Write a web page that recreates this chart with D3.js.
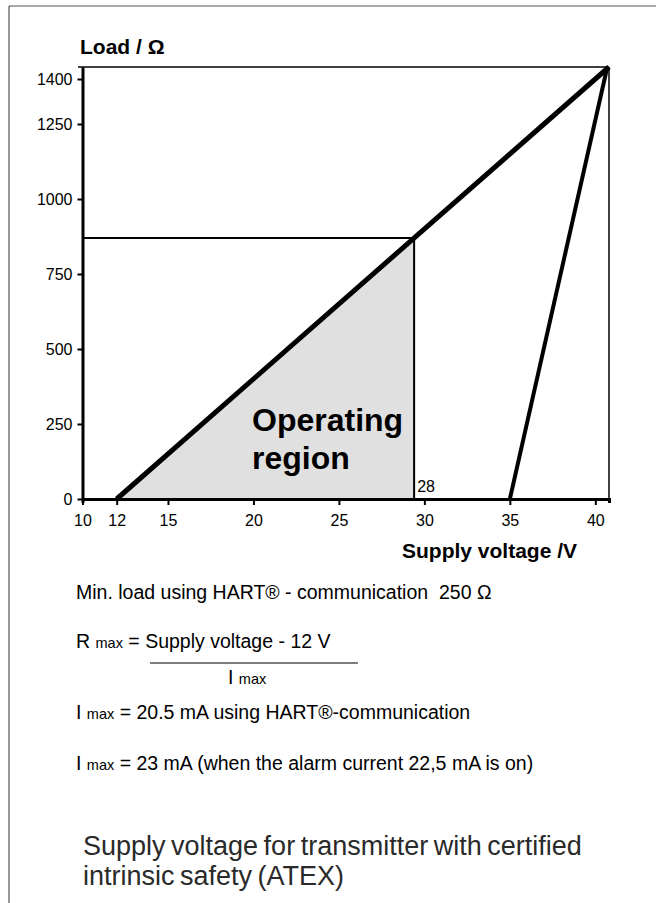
<!DOCTYPE html>
<html>
<head>
<meta charset="utf-8">
<script src="https://cdn.jsdelivr.net/npm/d3@7"></script>
<style>
  body { margin: 0; background: #fff; }
  svg { display: block; font-family: "Liberation Sans", Arial, sans-serif; }
  text { white-space: pre; }
</style>
</head>
<body>
<svg id="loadChart"></svg>
<script>
// values
var xTicks = [10, 12, 15, 20, 25, 30, 35, 40];
var yTicks = [0, 250, 500, 750, 1000, 1250, 1400];
var xDomain = [10, 40.8];
var yDomain = [0, 1440];
var loadLine = [[12, 0], [40.8, 1440]];      // R max = (U - 12 V) / 20 mA
var steepLine = [[35, 0], [40.7, 1440]];
var operatingPoint = [29.4, 870];
var regionPoly = [[12, 0], [29.4, 870], [29.4, 0]];

var svg = d3.select("#loadChart")
    .attr("width", 656)
    .attr("height", 903);

// page frame
svg.append("line").attr("x1", 9).attr("y1", 6).attr("x2", 656).attr("y2", 6)
    .attr("stroke", "#555").attr("stroke-width", 1.2);
svg.append("line").attr("x1", 9).attr("y1", 6).attr("x2", 9).attr("y2", 903)
    .attr("stroke", "#555").attr("stroke-width", 1.2);

var xScale = d3.scaleLinear().domain(xDomain).range([82.5, 609]);
var yScale = d3.scaleLinear().domain(yDomain).range([499, 67]);

var line = d3.line().x(d => xScale(d[0])).y(d => yScale(d[1]));

// operating region
svg.append("path")
    .attr("d", line(regionPoly) + "Z")
    .attr("fill", "#e0e0e0");

// top and right frame of the plot
svg.append("line")
    .attr("x1", 78).attr("x2", xScale(xDomain[1]))
    .attr("y1", yScale(yDomain[1])).attr("y2", yScale(yDomain[1]))
    .attr("stroke", "#000").attr("stroke-width", 1.5);
svg.append("line")
    .attr("x1", xScale(xDomain[1])).attr("x2", xScale(xDomain[1]))
    .attr("y1", yScale(yDomain[1])).attr("y2", yScale(0))
    .attr("stroke", "#000").attr("stroke-width", 1.5);

// operating point guide lines
svg.append("line")
    .attr("x1", xScale(xDomain[0])).attr("x2", xScale(operatingPoint[0]))
    .attr("y1", yScale(operatingPoint[1])).attr("y2", yScale(operatingPoint[1]))
    .attr("stroke", "#000").attr("stroke-width", 2);
svg.append("line")
    .attr("x1", xScale(operatingPoint[0])).attr("x2", xScale(operatingPoint[0]))
    .attr("y1", yScale(operatingPoint[1])).attr("y2", yScale(0))
    .attr("stroke", "#000").attr("stroke-width", 2);

svg.append("path")
    .attr("d", line(loadLine))
    .attr("fill", "none").attr("stroke", "#000").attr("stroke-width", 5);
svg.append("path")
    .attr("d", line(steepLine))
    .attr("fill", "none").attr("stroke", "#000").attr("stroke-width", 4);

// axes
var yAxis = svg.append("g")
    .attr("transform", "translate(" + xScale(xDomain[0]) + ",0)")
    .call(d3.axisLeft(yScale).tickValues(yTicks).tickFormat(d3.format("d"))
        .tickSize(5).tickSizeOuter(0).tickPadding(5));
var xAxis = svg.append("g")
    .attr("transform", "translate(0," + yScale(0) + ")")
    .call(d3.axisBottom(xScale).tickValues(xTicks).tickFormat(d3.format("d"))
        .tickSize(6).tickSizeOuter(4).tickPadding(10));

[yAxis, xAxis].forEach(function(g) {
    g.select(".domain").attr("stroke", "#000").attr("stroke-width", 3);
    g.selectAll(".tick line").attr("stroke", "#000").attr("stroke-width", 2);
    g.selectAll(".tick text")
        .attr("font-family", "Liberation Sans, Arial, sans-serif")
        .attr("font-size", 16).attr("fill", "#000");
});

// axis titles and labels
svg.append("text").attr("x", 80).attr("y", 54)
    .attr("font-size", 21).attr("font-weight", "bold").text("Load / Ω");
svg.append("text").attr("x", 402).attr("y", 558)
    .attr("font-size", 21).attr("font-weight", "bold").text("Supply voltage /V");
svg.append("text").attr("x", 252).attr("y", 431)
    .attr("font-size", 32).attr("font-weight", "bold").text("Operating");
svg.append("text").attr("x", 252).attr("y", 469)
    .attr("font-size", 32).attr("font-weight", "bold").text("region");
svg.append("text").attr("x", xScale(operatingPoint[0]) + 3).attr("y", 492)
    .attr("font-size", 16).text("28");

// notes below the chart
function note(x, y, parts) {
    var t = svg.append("text").attr("x", x).attr("y", y).attr("font-size", 19.5);
    parts.forEach(function(p) {
        var s = t.append("tspan").text(p[0]);
        if (p[1]) s.attr("font-size", 14.5);
    });
    return t;
}
note(76, 599, [["Min. load using HART® - communication  250 Ω"]]);
note(76, 648, [["R "], ["max", 1], [" = Supply voltage - 12 V"]]);
svg.append("line").attr("x1", 150).attr("x2", 358).attr("y1", 663).attr("y2", 663)
    .attr("stroke", "#000").attr("stroke-width", 1.2);
note(228, 684, [["I "], ["max", 1]]);
note(76, 719, [["I "], ["max", 1], [" = 20.5 mA using HART®-communication"]]);
note(76, 770, [["I "], ["max", 1], [" = 23 mA (when the alarm current 22,5 mA is on)"]]);

svg.append("text").attr("x", 83).attr("y", 855)
    .attr("font-size", 27).attr("fill", "#2a2a2a").attr("word-spacing", -2)
    .text("Supply voltage for transmitter with certified");
svg.append("text").attr("x", 83).attr("y", 885)
    .attr("font-size", 27).attr("fill", "#2a2a2a").attr("word-spacing", -2)
    .text("intrinsic safety (ATEX)");
</script>
</body>
</html>
